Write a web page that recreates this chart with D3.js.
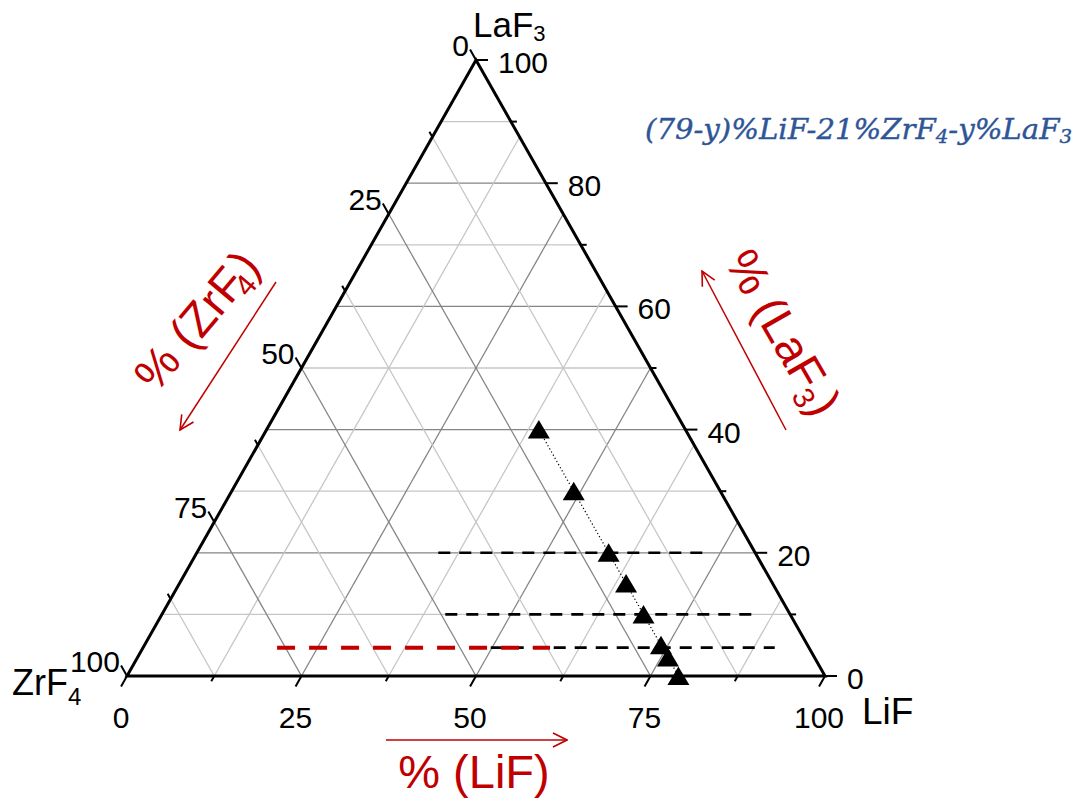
<!DOCTYPE html>
<html><head><meta charset="utf-8">
<script src="https://cdn.jsdelivr.net/npm/d3@7"></script>
<style>body{margin:0;background:#fff} svg{display:block}</style>
</head><body>
<svg id="chart" width="1080" height="799"></svg>
<script>
// ---- data ----
const sampleLiF  = [39, 49, 59, 64, 69, 74, 76, 79];
const sampleZrF4 = [21, 21, 21, 21, 21, 21, 21, 21];
const sampleLaF3 = [40, 30, 20, 15, 10, 5, 3, 0];

const lifTicks  = [0, 12.5, 25, 37.5, 50, 62.5, 75, 87.5, 100];
const lifLabels = [0, 25, 50, 75, 100];
const zrTicks   = [0, 12.5, 25, 37.5, 50, 62.5, 75, 87.5, 100];
const zrLabels  = [0, 25, 50, 75, 100];
const laTicks   = [0, 10, 20, 30, 40, 50, 60, 70, 80, 90, 100];
const laLabels  = [0, 20, 40, 60, 80, 100];

const lifGrid = [12.5, 25, 37.5, 50, 62.5, 75, 87.5];
const zrGrid  = [12.5, 25, 37.5, 50, 62.5, 75, 87.5];
const laGrid  = [10, 20, 30, 40, 50, 60, 70, 80, 90];

// horizontal guide lines: LaF3 level and extent along the base (% of base)
const blackGuideLaF3 = [20, 10, 4.6];
const blackGuideFrom = [44.6, 45.6, 49.1];
const blackGuideTo   = [82.8, 89.5, 92.8];
const redGuideLaF3 = [4.6];
const redGuideFrom = [21.5];
const redGuideTo   = [60.6];

const subtitleParts = ["(79-y)%LiF-21%ZrF", "4", "-y%LaF", "3"];

// ---- layout ----
const svg = d3.select("#chart");
const xs = d3.scaleLinear().domain([0, 100]).range([127, 825]);
const ys = d3.scaleLinear().domain([0, 100]).range([676, 60]);
function proj(lif, zr, la) {
  const s = lif + zr + la;
  const L = lif / s * 100, A = la / s * 100;
  return [xs(L + A / 2), ys(A)];
}
const RED = "#c00000";
const FONT = "'Liberation Sans', Arial, sans-serif";

// grid
const g = svg.append("g");
function gridLine(p, q, major) {
  g.append("line").attr("x1", p[0]).attr("y1", p[1]).attr("x2", q[0]).attr("y2", q[1])
    .attr("stroke", major ? "#858585" : "#c6c6c6").attr("stroke-width", 1.3);
}
laGrid.forEach(v => gridLine(proj(0, 100 - v, v), proj(100 - v, 0, v), v % 20 === 0));
lifGrid.forEach(v => gridLine(proj(v, 100 - v, 0), proj(v, 0, 100 - v), v % 25 === 0));
zrGrid.forEach(v => gridLine(proj(100 - v, v, 0), proj(0, v, 100 - v), v % 25 === 0));

// guide dashed lines
blackGuideLaF3.forEach((v, i) => {
  svg.append("line")
    .attr("x1", xs(blackGuideFrom[i])).attr("x2", xs(blackGuideTo[i]))
    .attr("y1", ys(v)).attr("y2", ys(v))
    .attr("stroke", "#000").attr("stroke-width", 2.6).attr("stroke-dasharray", "12,9");
});
redGuideLaF3.forEach((v, i) => {
  svg.append("line")
    .attr("x1", xs(redGuideFrom[i])).attr("x2", xs(redGuideTo[i]))
    .attr("y1", ys(v)).attr("y2", ys(v))
    .attr("stroke", RED).attr("stroke-width", 4).attr("stroke-dasharray", "18,14");
});

// triangle frame
const A = proj(0, 100, 0), B = proj(100, 0, 0), T = proj(0, 0, 100);
svg.append("path").attr("d", `M${A}L${B}L${T}Z`).attr("fill", "none")
  .attr("stroke", "#000").attr("stroke-width", 3).attr("stroke-linejoin", "miter");

function unit(p, q) { const dx = q[0] - p[0], dy = q[1] - p[1], l = Math.hypot(dx, dy); return [dx / l, dy / l]; }
const uLeft = unit(A, T);   // up-right along left edge
const uRight = unit(B, T);  // up-left along right edge
const dirBottom = [-uLeft[0], -uLeft[1]];
const dirLeft = uRight;
const dirRight = [1, 0];

function tick(p, d, len) {
  svg.append("line").attr("x1", p[0]).attr("y1", p[1])
    .attr("x2", p[0] + d[0] * len).attr("y2", p[1] + d[1] * len)
    .attr("stroke", "#000").attr("stroke-width", 2);
}
lifTicks.forEach(v => tick(proj(v, 100 - v, 0), dirBottom, lifLabels.includes(v) ? 12 : 6));
zrTicks.forEach(v => tick(proj(0, v, 100 - v), dirLeft, zrLabels.includes(v) ? 12 : 6));
laTicks.forEach(v => tick(proj(100 - v, 0, v), dirRight, laLabels.includes(v) ? 12 : 6));

// tick labels
const tl = svg.append("g").attr("font-family", FONT).attr("font-size", 30).attr("fill", "#000");
lifLabels.forEach(v => {
  const p = proj(v, 100 - v, 0);
  tl.append("text").attr("x", p[0] - 6).attr("y", 728).attr("text-anchor", "middle").text(v);
});
zrLabels.forEach(v => {
  const p = proj(0, v, 100 - v);
  tl.append("text").attr("x", p[0] - 7).attr("y", p[1] - 4).attr("text-anchor", "end").text(v);
});
laLabels.forEach(v => {
  const p = proj(100 - v, 0, v);
  tl.append("text").attr("x", p[0] + 22).attr("y", p[1] + 13).attr("text-anchor", "start").text(v);
});

// component labels
function chem(x, y, base, sub, size, subSize, subDy, anchor) {
  const t = svg.append("text").attr("x", x).attr("y", y).attr("font-family", FONT)
    .attr("font-size", size).attr("fill", "#000").attr("text-anchor", anchor || "start");
  t.append("tspan").text(base);
  t.append("tspan").attr("dy", subDy).attr("font-size", subSize).text(sub);
  return t;
}
chem(473, 37, "LaF", "3", 35, 22, 4);
chem(12, 695, "ZrF", "4", 36, 24, 10);
svg.append("text").attr("x", 862).attr("y", 724).attr("font-family", FONT)
  .attr("font-size", 37).text("LiF");

// subtitle
const st = svg.append("text").attr("x", 645).attr("y", 139)
  .attr("font-family", "'DejaVu Serif', 'Liberation Serif', serif").attr("font-style", "italic")
  .attr("font-size", 28).attr("fill", "#2f5597").attr("stroke", "#2f5597").attr("stroke-width", 0.4)
  .attr("textLength", 427).attr("lengthAdjust", "spacingAndGlyphs");
st.append("tspan").text(subtitleParts[0]);
st.append("tspan").attr("font-size", 19).attr("dy", 4).text(subtitleParts[1]);
st.append("tspan").attr("dy", -4).text(subtitleParts[2]);
st.append("tspan").attr("font-size", 19).attr("dy", 4).text(subtitleParts[3]);

// red axis titles + arrows
const defs = svg.append("defs");
defs.append("marker").attr("id", "arr").attr("viewBox", "0 0 16 16").attr("refX", 15).attr("refY", 8)
  .attr("markerWidth", 16).attr("markerHeight", 16).attr("markerUnits", "userSpaceOnUse").attr("orient", "auto")
  .append("path").attr("d", "M1,1 L15,8 L1,15").attr("fill", "none").attr("stroke", RED).attr("stroke-width", 1.6);
function arrow(x1, y1, x2, y2) {
  svg.append("line").attr("x1", x1).attr("y1", y1).attr("x2", x2).attr("y2", y2)
    .attr("stroke", RED).attr("stroke-width", 1.5).attr("marker-end", "url(#arr)");
}
arrow(386, 740, 567, 740);
arrow(276, 282, 180, 430);
arrow(786, 430, 702, 271);

function redTitle(cx, cy, angle, base, sub, tail, subDx) {
  const t = svg.append("text").attr("transform", `translate(${cx},${cy}) rotate(${angle})`)
    .attr("text-anchor", "middle").attr("dy", "0.36em")
    .attr("font-family", FONT).attr("font-size", 47).attr("fill", RED);
  t.append("tspan").text(base);
  t.append("tspan").attr("font-size", 30).attr("dx", subDx).attr("dy", 9).text(sub);
  t.append("tspan").attr("dy", -9).text(tail);
  return t;
}
svg.append("text").attr("x", 474).attr("y", 788).attr("text-anchor", "middle")
  .attr("font-family", FONT).attr("font-size", 47).attr("fill", RED).text("% (LiF)");
redTitle(196, 320, -50, "% (ZrF", "4", ")", -11);
redTitle(784, 332, 60, "% (LaF", "3", ")", -2);

// data: dotted connector + triangles
const pts = sampleLaF3.map((v, i) => proj(sampleLiF[i], sampleZrF4[i], v));
svg.append("path").attr("d", d3.line()(pts)).attr("fill", "none")
  .attr("stroke", "#000").attr("stroke-width", 1.2).attr("stroke-dasharray", "1.2,2.4");
svg.append("g").selectAll("path").data(pts).join("path")
  .attr("transform", d => `translate(${d[0]},${d[1]})`)
  .attr("d", "M0,-9.5 L11,9 L-11,9 Z").attr("fill", "#000");
</script>
</body></html>
